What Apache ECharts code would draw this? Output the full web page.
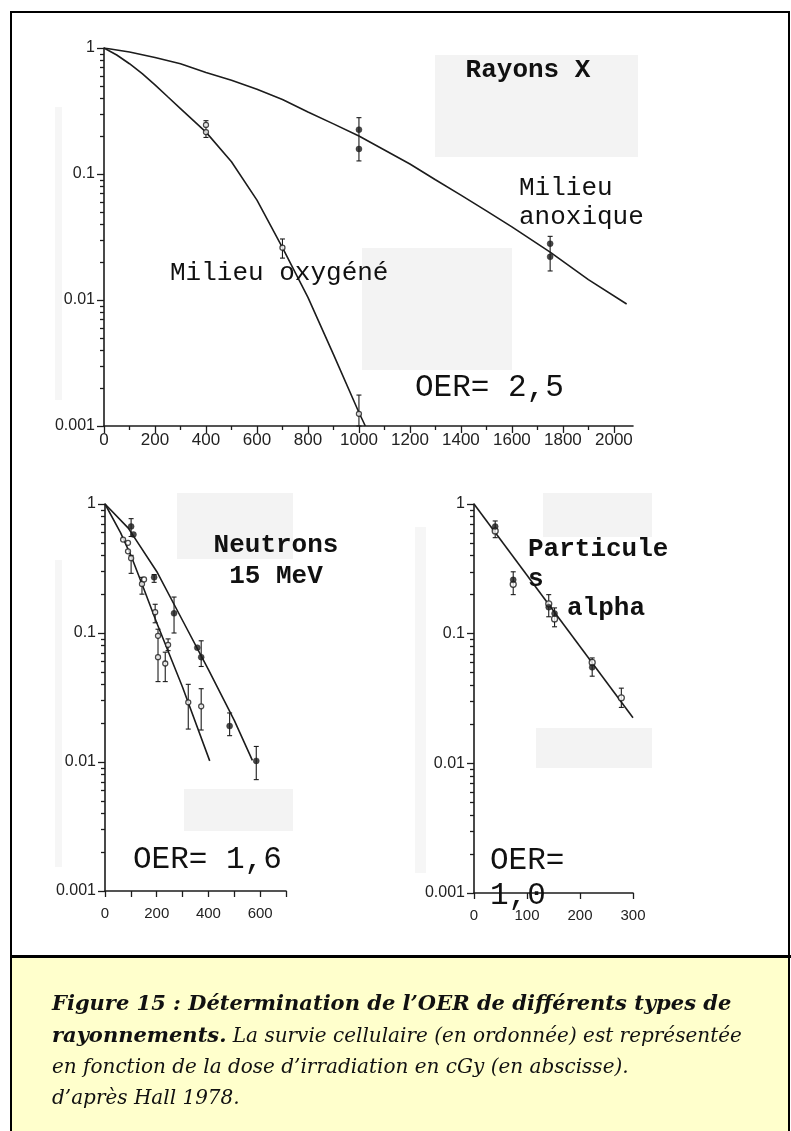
<!DOCTYPE html>
<html><head><meta charset="utf-8">
<script src="https://cdn.jsdelivr.net/npm/echarts@6/dist/echarts.min.js"></script>
<style>html,body{margin:0;padding:0;background:#fff}#c{width:791px;height:1131px}</style>
</head><body><div id="c"></div>
<script>
// ---------- DATA ----------
// Rayons X : fitted curves (dose cGy, survival)
const xOxicCurveDose = [0, 50, 100, 150, 200, 250, 300, 400, 500, 600, 700, 800, 900, 1000, 1025];
const xOxicCurveSurv = [1, 0.88, 0.75, 0.625, 0.51, 0.41, 0.33, 0.215, 0.125, 0.062, 0.026, 0.0105, 0.0037, 0.00128, 0.001];
const xAnoxCurveDose = [0, 100, 200, 300, 400, 500, 600, 700, 800, 900, 1000, 1100, 1200, 1300, 1400, 1500, 1600, 1750, 1900, 2050];
const xAnoxCurveSurv = [1, 0.93, 0.84, 0.75, 0.64, 0.555, 0.47, 0.39, 0.31, 0.25, 0.2, 0.155, 0.12, 0.09, 0.068, 0.051, 0.038, 0.024, 0.0145, 0.0093];
// Rayons X : measured points
const xOxicPtDose = [400, 400, 700, 1000];
const xOxicPtSurv = [0.245, 0.215, 0.026, 0.00125];
const xAnoxPtDose = [1000, 1000, 1750, 1750];
const xAnoxPtSurv = [0.225, 0.158, 0.028, 0.022];
// Rayons X : error bars
const xErrDose = [400, 700, 1000, 1000, 1750];
const xErrLow  = [0.195, 0.0215, 0.001, 0.127, 0.017];
const xErrHigh = [0.265, 0.0305, 0.00176, 0.28, 0.032];

// Neutrons 15 MeV
const nAnoxCurveDose = [0, 90, 200, 300, 400, 500, 570];
const nAnoxCurveSurv = [1, 0.65, 0.3, 0.125, 0.052, 0.021, 0.0103];
const nOxicCurveDose = [0, 60, 100, 150, 200, 300, 405];
const nOxicCurveSurv = [1, 0.6, 0.4, 0.22, 0.12, 0.038, 0.0102];
const nAnoxPtDose = [101, 110, 190, 267, 357, 372, 482, 585];
const nAnoxPtSurv = [0.67, 0.58, 0.27, 0.142, 0.077, 0.065, 0.019, 0.0102];
const nOxicPtDose = [70, 89, 89, 101, 143, 151, 194, 205, 205, 233, 244, 322, 372];
const nOxicPtSurv = [0.53, 0.5, 0.43, 0.38, 0.24, 0.26, 0.145, 0.095, 0.065, 0.058, 0.081, 0.029, 0.027];
const nErrDose = [101, 190, 267, 372, 482, 585, 101, 143, 194, 205, 233, 244, 322, 372];
const nErrLow  = [0.56, 0.247, 0.1, 0.055, 0.016, 0.0073, 0.29, 0.2, 0.12, 0.042, 0.042, 0.073, 0.018, 0.0177];
const nErrHigh = [0.77, 0.284, 0.19, 0.087, 0.024, 0.0132, 0.40, 0.27, 0.167, 0.107, 0.071, 0.09, 0.04, 0.037];

// Particules alpha
const aCurveDose = [0, 300];
const aCurveSurv = [1, 0.0225];
const aFilledDose = [40, 74, 141, 152, 223];
const aFilledSurv = [0.67, 0.26, 0.16, 0.143, 0.055];
const aOpenDose = [40, 74, 141, 152, 223, 278];
const aOpenSurv = [0.62, 0.24, 0.17, 0.13, 0.06, 0.032];
const aErrDose = [40, 74, 141, 152, 223, 278];
const aErrLow  = [0.55, 0.2, 0.135, 0.113, 0.047, 0.027];
const aErrHigh = [0.74, 0.3, 0.2, 0.158, 0.065, 0.038];

// Tick labels
const yTickLabels = ['0.001', '0.01', '0.1', '1'];
const xRayMajor = [0, 200, 400, 600, 800, 1000, 1200, 1400, 1600, 1800, 2000];
const xRayMinor = [100, 300, 500, 700, 900, 1100, 1300, 1500, 1700, 1900];

// ---------- BUILD ----------
const zip = (a, b) => a.map((v, i) => [v, b[i]]);
const zip3 = (a, b, c) => a.map((v, i) => [v, b[i], c[i]]);
const INK = '#1c1c1c';
const minorLog = [];
[-3, -2, -1].forEach(e => { for (let m = 2; m <= 9; m++) minorLog.push(Math.log10(m) + e); });

function errRender(params, api) {
  const x = api.value(0), lo = api.value(1), hi = api.value(2);
  const p1 = api.coord([x, lo]), p2 = api.coord([x, hi]);
  const w = 2.5, st = { stroke: INK, lineWidth: 1.1 };
  return { type: 'group', children: [
    { type: 'line', shape: { x1: p1[0], y1: p1[1], x2: p2[0], y2: p2[1] }, style: st },
    { type: 'line', shape: { x1: p1[0] - w, y1: p1[1], x2: p1[0] + w, y2: p1[1] }, style: st },
    { type: 'line', shape: { x1: p2[0] - w, y1: p2[1], x2: p2[0] + w, y2: p2[1] }, style: st }
  ]};
}

const grids = [
  { left: 104, top: 48, width: 529, height: 378 },
  { left: 105, top: 504, width: 181, height: 387 },
  { left: 474, top: 504, width: 159, height: 389 }
];

const axisLineSt = { onZero: false, lineStyle: { color: INK, width: 1.6 } };
const noLine = { show: false, onZero: false };
const tickSt = { color: INK, width: 1.3 };
const labelSt = { color: '#222', fontFamily: 'Liberation Sans', fontSize: 16 };

const xAxes = [
  { gridIndex: 0, type: 'value', position: 'bottom', min: 0, max: 2075, axisLine: axisLineSt, splitLine: { show: false },
    axisTick: { customValues: xRayMajor, length: 7, lineStyle: tickSt },
    axisLabel: { customValues: xRayMajor, margin: 6, ...labelSt, fontSize: 17, formatter: v => String(v) } },
  { gridIndex: 0, type: 'value', position: 'bottom', min: 0, max: 2075, axisLine: noLine, splitLine: { show: false },
    axisTick: { customValues: xRayMinor, length: 4, lineStyle: tickSt }, axisLabel: { show: false } },
  { gridIndex: 1, type: 'value', position: 'bottom', min: 0, max: 700, interval: 100, axisLine: axisLineSt, splitLine: { show: false },
    axisTick: { length: 6, lineStyle: tickSt },
    axisLabel: { margin: 15, ...labelSt, fontSize: 15, formatter: v => (v % 200 === 0 ? String(v) : '') } },
  { gridIndex: 2, type: 'value', position: 'bottom', min: 0, max: 300, interval: 100, axisLine: axisLineSt, splitLine: { show: false },
    axisTick: { length: 6, lineStyle: tickSt },
    axisLabel: { margin: 15, ...labelSt, fontSize: 15, formatter: v => String(v) } }
];

const yAxes = [];
[0, 1, 2].forEach(g => {
  yAxes.push({ gridIndex: g, type: 'log', position: 'left', logBase: 10, min: 0.001, max: 1, interval: 1,
    axisLine: axisLineSt, splitLine: { show: false }, axisTick: { length: 7, lineStyle: tickSt },
    axisLabel: { margin: 9, ...labelSt, formatter: v => {
      const i = Math.round(Math.log10(v)) + 3; return yTickLabels[i] || ''; } } });
  yAxes.push({ gridIndex: g, type: 'value', position: 'left', offset: 0, min: -3, max: 0, axisLine: noLine, splitLine: { show: false },
    axisTick: { customValues: minorLog, length: 4, lineStyle: tickSt }, axisLabel: { show: false } });
});

function curve(xi, yi, d, s) {
  return { type: 'line', xAxisIndex: xi, yAxisIndex: yi, data: zip(d, s), symbol: 'none',
    smooth: false, lineStyle: { color: INK, width: 1.6 }, z: 3 };
}
function pts(xi, yi, d, s, open, size) {
  return { type: 'scatter', xAxisIndex: xi, yAxisIndex: yi, data: zip(d, s), symbol: 'circle',
    symbolSize: size || 6, z: 5,
    itemStyle: open ? { color: '#fff', borderColor: INK, borderWidth: 1.3 } : { color: INK, borderColor: INK, borderWidth: 0.5 } };
}
function errs(xi, yi, d, lo, hi) {
  return { type: 'custom', xAxisIndex: xi, yAxisIndex: yi, data: zip3(d, lo, hi),
    encode: { x: 0, y: [1, 2] }, renderItem: errRender, z: 4 };
}

const series = [
  curve(0, 0, xOxicCurveDose, xOxicCurveSurv),
  curve(0, 0, xAnoxCurveDose, xAnoxCurveSurv),
  errs(0, 0, xErrDose, xErrLow, xErrHigh),
  pts(0, 0, xOxicPtDose, xOxicPtSurv, true, 5),
  pts(0, 0, xAnoxPtDose, xAnoxPtSurv, false, 6),

  curve(2, 2, nAnoxCurveDose, nAnoxCurveSurv),
  curve(2, 2, nOxicCurveDose, nOxicCurveSurv),
  errs(2, 2, nErrDose, nErrLow, nErrHigh),
  pts(2, 2, nOxicPtDose, nOxicPtSurv, true, 5),
  pts(2, 2, nAnoxPtDose, nAnoxPtSurv, false, 6),

  curve(3, 4, aCurveDose, aCurveSurv),
  errs(3, 4, aErrDose, aErrLow, aErrHigh),
  pts(3, 4, aOpenDose, aOpenSurv, true, 6),
  pts(3, 4, aFilledDose, aFilledSurv, false, 6)
];

const mono = 'Liberation Mono, Courier New, monospace';
const patch = '#f3f3f3';
function rect(x, y, w, h, fill) { return { type: 'rect', shape: { x, y, width: w, height: h }, style: { fill: fill || patch }, z: 0, silent: true }; }
function txt(x, y, text, opts) {
  return { type: 'text', x, y, z: 50, style: Object.assign({ text, fill: '#111', font: '26px ' + mono,
    textAlign: 'left', textVerticalAlign: 'middle' }, opts || {}) };
}

const serif = 'DejaVu Serif';
const graphic = [
  // faint scan patches
  rect(435, 55, 203, 102), rect(362, 248, 150, 122),
  rect(177, 493, 116, 66), rect(184, 789, 109, 42),
  rect(543, 493, 109, 44), rect(536, 728, 116, 40),
  rect(55, 107, 7, 293, '#f6f6f6'), rect(55, 560, 7, 307, '#f6f6f6'), rect(415, 527, 11, 346, '#f6f6f6'),
  // caption box
  rect(11, 957, 779, 180, '#ffffcc'),
  { type: 'line', shape: { x1: 10, y1: 956.5, x2: 791, y2: 956.5 }, style: { stroke: '#000', lineWidth: 3 }, z: 60 },
  { type: 'rect', shape: { x: 11, y: 12, width: 778, height: 1140 }, style: { fill: null, stroke: '#000', lineWidth: 2 }, z: 60 },
  // annotations (y = vertical centre)
  txt(528, 70, 'Rayons X', { font: 'bold 26px ' + mono, textAlign: 'center' }),
  txt(519, 188, 'Milieu'),
  txt(519, 217, 'anoxique'),
  txt(170, 273, 'Milieu oxygéné'),
  txt(415, 388, 'OER= 2,5', { font: '31px ' + mono }),
  txt(276, 545, 'Neutrons', { font: 'bold 26px ' + mono, textAlign: 'center' }),
  txt(276, 576, '15 MeV', { font: 'bold 26px ' + mono, textAlign: 'center' }),
  txt(133, 860, 'OER= 1,6', { font: '31px ' + mono }),
  txt(528, 549, 'Particule', { font: 'bold 26px ' + mono }),
  txt(528, 579, 's', { font: 'bold 26px ' + mono }),
  txt(567, 608, 'alpha', { font: 'bold 26px ' + mono }),
  txt(490, 861, 'OER=', { font: '31px ' + mono }),
  txt(490, 896, '1,0', { font: '31px ' + mono }),
  // caption text (y = top)
  { type: 'text', x: 52, y: 994, z: 61, style: { text: '{b|Figure 15 : Détermination de l’OER de différents types de}',
      textVerticalAlign: 'top', rich: { b: { font: 'italic bold 21px ' + serif, fill: '#111' } } } },
  { type: 'text', x: 52, y: 1026, z: 61, style: { text: '{b|rayonnements.}{i| La survie cellulaire (en ordonnée) est représentée}',
      textVerticalAlign: 'top', rich: { b: { font: 'italic bold 21px ' + serif, fill: '#111' }, i: { font: 'italic 20px ' + serif, fill: '#111' } } } },
  { type: 'text', x: 52, y: 1058, z: 61, style: { text: 'en fonction de la dose d’irradiation en cGy (en abscisse).',
      font: 'italic 20px ' + serif, fill: '#111', textVerticalAlign: 'top' } },
  { type: 'text', x: 52, y: 1089, z: 61, style: { text: 'd’après Hall 1978.',
      font: 'italic 20px ' + serif, fill: '#111', textVerticalAlign: 'top' } }
];

const chart = echarts.init(document.getElementById('c'), null, { renderer: 'canvas' });
chart.setOption({
  animation: false,
  backgroundColor: '#fff',
  grid: grids,
  xAxis: xAxes,
  yAxis: yAxes,
  series,
  graphic
});
</script>
</body></html>
